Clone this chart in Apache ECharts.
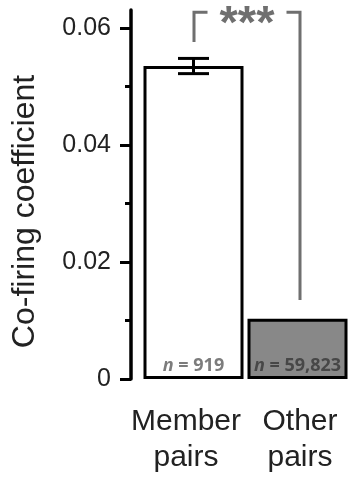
<!DOCTYPE html>
<html>
<head>
<meta charset="utf-8">
<script src="https://cdn.jsdelivr.net/npm/echarts@6/dist/echarts.min.js"></script>
<style>
  html, body { margin: 0; padding: 0; background: #fff; }
  #chart { width: 352px; height: 477px; }
</style>
</head>
<body>
<div id="chart"></div>
<script>
// Groups and their mean co-firing coefficients
const categories = ['Member\npairs', 'Other\npairs'];
const meanValues = [0.0535, 0.0103];
const semValues = [0.0013, 0];
const pairCounts = ['919', '59,823'];
const barColors = ['#ffffff', '#888888'];
const countColors = ['#7c7c7c', '#474747'];
const yTickValues = [0, 0.02, 0.04, 0.06];

// Significance bracket: left foot, top rail, right foot (coefficient units)
const bracketLeftFoot = 0.0576;
const bracketTop = 0.0627;
const bracketRightFoot = 0.0135;
const bracketMark = '***';

const chart = echarts.init(document.getElementById('chart'), null, { renderer: 'canvas' });

const gridBottom = 98;
const textFont = '"Liberation Sans", Arial, sans-serif';
const annotGray = '#6f6f6f';

const option = {
  animation: false,
  grid: [
    { left: 141.5, right: 2.5, top: 28, bottom: gridBottom },
    { left: 131, right: 2.5, top: 10, bottom: gridBottom }
  ],
  xAxis: [
    {
      type: 'category',
      gridIndex: 0,
      data: categories,
      axisLine: { show: false },
      axisTick: { show: false },
      axisLabel: {
        interval: 0,
        color: '#222',
        fontFamily: textFont,
        fontSize: 30,
        lineHeight: 36,
        margin: 25,
        formatter: (v, i) => v.split('\n').map(s => '{c' + i + '|' + s + '}').join('\n'),
        rich: {
          c0: { fontFamily: textFont, fontSize: 30, lineHeight: 36, color: '#222', padding: [0, 15, 0, 0] },
          c1: { fontFamily: textFont, fontSize: 30, lineHeight: 36, color: '#222', padding: [0, 0, 0, 5] }
        }
      }
    },
    { type: 'value', gridIndex: 1, show: false }
  ],
  yAxis: [
    {
      type: 'value',
      gridIndex: 0,
      min: 0,
      max: 0.06,
      interval: 0.02,
      offset: 10.5,
      axisLine: { show: false },
      axisTick: { show: true, length: 11, lineStyle: { color: '#000', width: 3 } },
      minorTick: { show: true, splitNumber: 2, length: 6, lineStyle: { color: '#000', width: 3 } },
      splitLine: { show: false },
      axisLabel: {
        color: '#222',
        fontFamily: textFont,
        fontSize: 25,
        margin: 20,
        customValues: yTickValues,
        formatter: v => (v === 0 ? '0' : v.toFixed(2))
      },
      name: 'Co-firing coefficient',
      nameLocation: 'middle',
      nameGap: 90,
      nameTextStyle: {
        color: '#222',
        fontFamily: textFont,
        fontSize: 32,
        padding: [0, 16, 0, 0]
      }
    },
    {
      type: 'value',
      gridIndex: 1,
      min: 0,
      max: 1,
      axisLine: { show: true, lineStyle: { color: '#000', width: 3.5 } },
      axisTick: { show: false },
      axisLabel: { show: false },
      splitLine: { show: false }
    }
  ],
  series: [
    {
      type: 'bar',
      xAxisIndex: 0,
      yAxisIndex: 0,
      barWidth: 100,
      data: meanValues.map((v, i) => ({
        value: v,
        itemStyle: { color: barColors[i], borderColor: '#000', borderWidth: 3 },
        label: { color: countColors[i] }
      })),
      label: {
        show: true,
        position: 'insideBottom',
        distance: 4,
        formatter: p => '{n|n} = ' + pairCounts[p.dataIndex],
        fontFamily: '"Open Sans", sans-serif',
        fontWeight: 'bold',
        fontSize: 18,
        rich: {
          n: { fontFamily: '"Open Sans", sans-serif', fontStyle: 'italic', fontWeight: 'bold', fontSize: 18 }
        }
      },
      z: 2
    },
    {
      // error bars (mean ± SEM)
      type: 'custom',
      xAxisIndex: 0,
      yAxisIndex: 0,
      data: meanValues.map((v, i) => [i, v, semValues[i]]),
      renderItem: (params, api) => {
        const sem = api.value(2);
        if (!sem) return null;
        const x = api.value(0);
        const m = api.value(1);
        const hi = api.coord([x, m + sem]);
        const lo = api.coord([x, m - sem]);
        const half = 15.5;
        const style = { stroke: '#000', lineWidth: 3 };
        return {
          type: 'group',
          children: [
            { type: 'line', shape: { x1: hi[0], y1: hi[1], x2: lo[0], y2: lo[1] }, style },
            { type: 'line', shape: { x1: hi[0] - half, y1: hi[1], x2: hi[0] + half, y2: hi[1] }, style },
            { type: 'line', shape: { x1: lo[0] - half, y1: lo[1], x2: lo[0] + half, y2: lo[1] }, style }
          ]
        };
      },
      z: 5
    },
    {
      // significance bracket between the two groups
      type: 'custom',
      xAxisIndex: 0,
      yAxisIndex: 0,
      clip: false,
      data: [[0, 1, bracketLeftFoot, bracketTop, bracketRightFoot]],
      renderItem: (params, api) => {
        const a = api.coord([api.value(0), api.value(2)]);
        const topL = api.coord([api.value(0), api.value(3)]);
        const b = api.coord([api.value(1), api.value(4)]);
        const xl = a[0] + 0.5;
        const xr = b[0] + 2.5;
        const yt = topL[1];
        const stub = 13.5;
        const style = { stroke: annotGray, lineWidth: 3, fill: null, lineJoin: 'miter' };
        return {
          type: 'group',
          children: [
            { type: 'polyline', shape: { points: [[xl, a[1]], [xl, yt], [xl + stub, yt]] }, style },
            { type: 'polyline', shape: { points: [[xr - stub, yt], [xr, yt], [xr, b[1]]] }, style },
            {
              type: 'text',
              x: (xl + xr) / 2,
              y: yt - 11,
              style: {
                text: bracketMark,
                fill: annotGray,
                font: 'bold 47px "Liberation Sans", Arial, sans-serif',
                align: 'center',
                verticalAlign: 'top'
              }
            }
          ]
        };
      },
      z: 6
    }
  ]
};

chart.setOption(option);
</script>
</body>
</html>
